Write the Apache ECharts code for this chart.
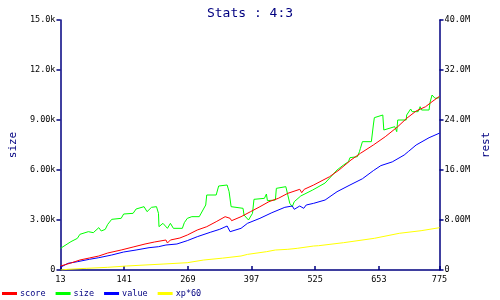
<!DOCTYPE html>
<html>
<head>
<meta charset="utf-8">
<style>html,body{margin:0;padding:0;background:#fff;}#c{width:500px;height:300px;}</style>
<script src="https://cdn.jsdelivr.net/npm/echarts@6/dist/echarts.min.js"></script>
</head>
<body>
<div id="c"></div>
<script>
var titleText = 'Stats : 4:3';
var xTicks = [13, 141, 269, 397, 525, 653, 775];
var leftTicksMax = 15000, leftInterval = 3000;
var rightTicksMax = 40000000, rightInterval = 8000000;

// score (rest axis, raw units)
var scoreX = [13, 34, 52, 71, 90, 108, 135, 159, 183, 202, 225, 228, 234, 253, 268, 288, 307, 326, 344, 354, 357, 376, 395, 414, 432, 451, 470, 494, 498, 503, 522, 554, 573, 597, 616, 642, 666, 691, 709, 728, 747, 760, 775];
var scoreY = [0.64, 1.12, 1.6, 1.92, 2.24, 2.72, 3.2, 3.68, 4.16, 4.48, 4.8, 4.32, 4.8, 5.12, 5.6, 6.4, 6.93, 7.73, 8.53, 8.27, 7.89, 8.53, 9.33, 10.13, 10.93, 11.47, 12.27, 12.91, 12.37, 12.91, 13.6, 14.93, 16.0, 17.6, 18.67, 20.0, 21.33, 22.93, 24.27, 25.44, 26.13, 26.93, 27.8];

// size (size axis)
var sizeX = [13, 34, 47, 52, 69, 79, 90, 95, 103, 108, 116, 135, 140, 159, 165, 181, 187, 196, 206, 210, 211, 219, 228, 234, 240, 258, 262, 268, 277, 292, 305, 307, 326, 331, 348, 352, 356, 380, 382, 391, 399, 402, 423, 427, 429, 445, 447, 466, 474, 479, 483, 496, 520, 522, 545, 548, 569, 573, 582, 592, 595, 610, 614, 616, 620, 638, 642, 644, 661, 663, 685, 689, 691, 708, 709, 717, 720, 732, 736, 739, 754, 756, 760, 766, 775];
var sizeY = [1300, 1700, 1900, 2140, 2300, 2240, 2540, 2340, 2440, 2740, 3040, 3100, 3360, 3400, 3660, 3800, 3500, 3760, 3800, 3400, 2600, 2800, 2500, 2800, 2500, 2500, 2840, 3100, 3200, 3200, 3900, 4500, 4500, 5040, 5100, 4700, 3800, 3700, 3300, 3000, 3400, 4240, 4300, 4560, 4160, 4200, 4900, 5000, 4000, 3800, 4100, 4440, 4800, 4860, 5220, 5300, 6000, 6100, 6300, 6500, 6740, 6800, 7100, 7300, 7700, 7700, 8700, 9140, 9300, 8400, 8600, 8300, 9000, 9000, 9300, 9660, 9500, 9500, 9800, 9600, 9600, 10060, 10500, 10300, 10340];

// value (rest axis, millions)
var valueX = [13, 28, 47, 71, 90, 116, 140, 165, 191, 210, 225, 228, 247, 268, 288, 314, 333, 348, 354, 376, 389, 414, 438, 464, 479, 483, 494, 502, 507, 522, 545, 569, 595, 620, 642, 657, 680, 704, 713, 728, 754, 775];
var valueY = [0.43, 1.07, 1.33, 1.71, 1.97, 2.4, 2.88, 3.2, 3.57, 3.73, 4.0, 3.73, 4.16, 4.7, 5.33, 6.03, 6.51, 7.04, 6.13, 6.67, 7.47, 8.27, 9.17, 10.03, 10.24, 9.71, 10.24, 9.87, 10.4, 10.67, 11.2, 12.53, 13.6, 14.6, 15.9, 16.7, 17.3, 18.4, 19.0, 20.0, 21.17, 21.9];

// xp*60 (rest axis, millions)
var xpX = [13, 28, 65, 108, 146, 183, 221, 268, 301, 339, 376, 389, 427, 445, 470, 489, 522, 532, 582, 644, 694, 738, 775];
var xpY = [0.0, 0.11, 0.27, 0.43, 0.64, 0.8, 0.96, 1.17, 1.6, 1.9, 2.24, 2.5, 2.93, 3.2, 3.31, 3.47, 3.84, 3.89, 4.37, 5.07, 5.87, 6.29, 6.77];

function zip(xs, ys, k) {
  var out = [];
  for (var i = 0; i < xs.length; i++) out.push([xs[i], ys[i] * k]);
  return out;
}

function fmt(v, unit) {
  if (v === 0) return '0';
  return (v).toPrecision(3) + unit;
}
function fmtLeft(v) { return v === 0 ? '0' : fmt(v / 1000, 'k'); }
function fmtRight(v) { return v === 0 ? '0' : fmt(v / 1000000, 'M'); }

var mono = 'DejaVu Sans Mono';
var navy = '#000080';

var chart = echarts.init(document.getElementById('c'), null, {renderer: 'canvas'});
chart.setOption({
  animation: false,
  backgroundColor: '#ffffff',
  title: {
    text: titleText,
    left: 'center',
    top: 2,
    textStyle: {fontFamily: mono, fontSize: 13, fontWeight: 'normal', color: navy}
  },
  legend: {
    left: 2,
    top: 289,
    icon: 'rect',
    itemWidth: 15,
    itemHeight: 3,
    itemGap: 10,
    padding: 0,
    textStyle: {fontFamily: mono, fontSize: 8.5, color: navy, padding: [0, 0, 0, -2]},
    data: ['score', 'size', 'value', 'xp*60']
  },
  grid: {left: 46, right: 47, top: 20, bottom: 30, containLabel: false},
  xAxis: {
    type: 'value',
    min: xTicks[0],
    max: xTicks[xTicks.length - 1],
    splitLine: {show: false},
    axisLine: {lineStyle: {color: navy, width: 1.5}},
    axisTick: {show: true, inside: true, length: 4, customValues: xTicks, lineStyle: {color: navy, width: 1.5}},
    axisLabel: {customValues: xTicks, color: '#000', fontFamily: mono, fontSize: 8.5, margin: 5}
  },
  yAxis: [{
    type: 'value',
    position: 'left',
    min: 0, max: leftTicksMax, interval: leftInterval,
    name: 'size',
    nameLocation: 'middle',
    nameRotate: 90,
    nameGap: 33,
    nameTextStyle: {fontFamily: mono, fontSize: 11, color: navy},
    splitLine: {show: false},
    axisLine: {show: true, lineStyle: {color: navy, width: 1.5}},
    axisTick: {show: true, length: 4, lineStyle: {color: navy, width: 1.5}},
    axisLabel: {formatter: fmtLeft, color: '#000', fontFamily: mono, fontSize: 8.5, margin: 5}
  }, {
    type: 'value',
    position: 'right',
    min: 0, max: rightTicksMax, interval: rightInterval,
    name: 'rest',
    nameLocation: 'middle',
    nameRotate: 90,
    nameGap: 32,
    nameTextStyle: {fontFamily: mono, fontSize: 11, color: navy},
    splitLine: {show: false},
    axisLine: {show: true, lineStyle: {color: navy, width: 1.5}},
    axisTick: {show: true, length: 4, lineStyle: {color: navy, width: 1.5}},
    axisLabel: {formatter: fmtRight, color: '#000', fontFamily: mono, fontSize: 8.5, margin: 5}
  }],
  series: [
    {name: 'score', type: 'line', yAxisIndex: 1, symbol: 'none', color: '#ff0000', lineStyle: {width: 1, color: '#ff0000'}, data: zip(scoreX, scoreY, 1000000), z: 3},
    {name: 'size', type: 'line', yAxisIndex: 0, symbol: 'none', color: '#00ff00', lineStyle: {width: 1, color: '#00ff00'}, data: zip(sizeX, sizeY, 1), z: 2},
    {name: 'value', type: 'line', yAxisIndex: 1, symbol: 'none', color: '#0000ff', lineStyle: {width: 1, color: '#0000ff'}, data: zip(valueX, valueY, 1000000), z: 2},
    {name: 'xp*60', type: 'line', yAxisIndex: 1, symbol: 'none', color: '#ffff00', lineStyle: {width: 1, color: '#ffff00'}, data: zip(xpX, xpY, 1000000), z: 2}
  ]
});
</script>
</body>
</html>
